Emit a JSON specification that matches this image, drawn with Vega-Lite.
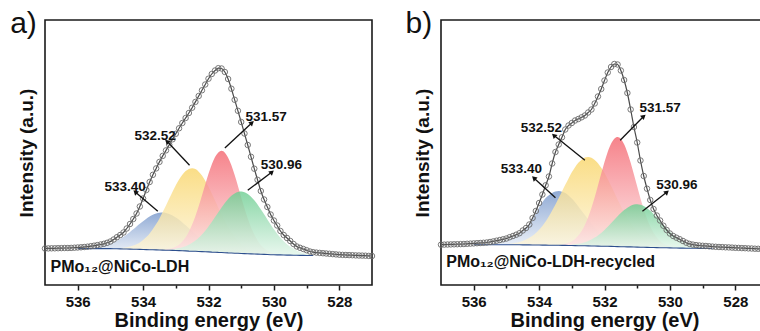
{
"$schema":"https://vega.github.io/schema/vega-lite/v6.json",
"padding":{"left":9,"top":8,"right":0,"bottom":0},
"background":"white",
"config":{"font":"Liberation Sans","view":{"stroke":"#1a1a1a","strokeWidth":1.6}},
"data":{"values":[
{"p":"a","k":"d","x":537.0,"o":36.5},{"p":"a","k":"d","x":536.9,"o":36.6},{"p":"a","k":"d","x":536.8,"o":36.7},{"p":"a","k":"d","x":536.7,"o":36.7},{"p":"a","k":"d","x":536.6,"o":36.8},{"p":"a","k":"d","x":536.5,"o":36.9},{"p":"a","k":"d","x":536.4,"o":37.0},{"p":"a","k":"d","x":536.3,"o":37.0},{"p":"a","k":"d","x":536.2,"o":37.1},{"p":"a","k":"d","x":536.1,"o":37.3},
{"p":"a","k":"d","x":536.0,"o":37.5,"bg":36.4},{"p":"a","k":"d","x":535.9,"o":37.7,"bg":36.4},
{"p":"a","k":"d","x":535.8,"o":38.0,"bg":36.4,"bl":36.8},{"p":"a","k":"d","x":535.7,"o":38.3,"bg":36.4,"bl":37.0},{"p":"a","k":"d","x":535.6,"o":38.8,"bg":36.4,"bl":37.3},{"p":"a","k":"d","x":535.5,"o":39.3,"bg":36.4,"bl":37.6},{"p":"a","k":"d","x":535.4,"o":39.9,"bg":36.4,"bl":38.1},{"p":"a","k":"d","x":535.3,"o":40.5,"bg":36.4,"bl":38.7},{"p":"a","k":"d","x":535.2,"o":41.2,"bg":36.4,"bl":39.4},{"p":"a","k":"d","x":535.1,"o":42.2,"bg":36.4,"bl":40.3},{"p":"a","k":"d","x":535.0,"o":43.5,"bg":36.4,"bl":41.5},{"p":"a","k":"d","x":534.9,"o":45.5,"bg":36.3,"bl":42.8},{"p":"a","k":"d","x":534.8,"o":47.8,"bg":36.2,"bl":44.3},
{"p":"a","k":"d","x":534.7,"o":50.0,"bg":36.1,"bl":46.1,"ye":36.9},{"p":"a","k":"d","x":534.6,"o":52.5,"bg":36.0,"bl":48.2,"ye":37.2},{"p":"a","k":"d","x":534.5,"o":56.5,"bg":36.0,"bl":50.6,"ye":37.8},{"p":"a","k":"d","x":534.4,"o":61.0,"bg":35.9,"bl":53.1,"ye":38.4},{"p":"a","k":"d","x":534.3,"o":66.0,"bg":35.8,"bl":55.7,"ye":39.4},{"p":"a","k":"d","x":534.2,"o":71.5,"bg":35.7,"bl":58.5,"ye":40.8},{"p":"a","k":"d","x":534.1,"o":78.5,"bg":35.6,"bl":61.2,"ye":42.6},{"p":"a","k":"d","x":534.0,"o":86.5,"bg":35.5,"bl":63.8,"ye":45.0},{"p":"a","k":"d","x":533.9,"o":95.0,"bg":35.4,"bl":66.3,"ye":47.9},{"p":"a","k":"d","x":533.8,"o":103.0,"bg":35.3,"bl":68.4,"ye":51.6},{"p":"a","k":"d","x":533.7,"o":110.2,"bg":35.2,"bl":70.2,"ye":55.9},{"p":"a","k":"d","x":533.6,"o":116.6,"bg":35.1,"bl":71.4,"ye":60.9},{"p":"a","k":"d","x":533.5,"o":123.1,"bg":35.0,"bl":72.2,"ye":66.6},{"p":"a","k":"d","x":533.4,"o":129.1,"bg":34.9,"bl":72.4,"ye":72.9},
{"p":"a","k":"d","x":533.3,"o":134.6,"bg":34.8,"bl":72.0,"ye":79.5,"re":35.7},{"p":"a","k":"d","x":533.2,"o":140.2,"bg":34.7,"bl":71.0,"ye":86.4,"re":36.2,"gr":35.5},{"p":"a","k":"d","x":533.1,"o":145.7,"bg":34.6,"bl":69.6,"ye":93.3,"re":37.1,"gr":35.8},{"p":"a","k":"d","x":533.0,"o":151.2,"bg":34.5,"bl":67.6,"ye":99.7,"re":38.5,"gr":36.3},{"p":"a","k":"d","x":532.9,"o":156.7,"bg":34.4,"bl":65.3,"ye":105.5,"re":40.6,"gr":36.9},{"p":"a","k":"d","x":532.8,"o":162.0,"bg":34.2,"bl":62.5,"ye":110.3,"re":43.6,"gr":37.7},{"p":"a","k":"d","x":532.7,"o":167.0,"bg":34.1,"bl":59.7,"ye":113.9,"re":47.8,"gr":38.8},{"p":"a","k":"d","x":532.6,"o":172.0,"bg":33.9,"bl":56.7,"ye":116.1,"re":53.3,"gr":40.3},{"p":"a","k":"d","x":532.5,"o":177.3,"bg":33.8,"bl":53.7,"ye":116.8,"re":60.4,"gr":42.2},{"p":"a","k":"d","x":532.4,"o":183.1,"bg":33.7,"bl":50.9,"ye":115.9,"re":69.0,"gr":44.6},{"p":"a","k":"d","x":532.3,"o":189.0,"bg":33.5,"bl":48.1,"ye":113.3,"re":78.8,"gr":47.3},{"p":"a","k":"d","x":532.2,"o":194.7,"bg":33.4,"bl":45.6,"ye":109.5,"re":89.5,"gr":50.6},{"p":"a","k":"d","x":532.1,"o":200.5,"bg":33.2,"bl":43.2,"ye":104.3,"re":100.5,"gr":54.3},{"p":"a","k":"d","x":532.0,"o":206.3,"bg":33.1,"bl":41.2,"ye":98.3,"re":111.2,"gr":58.6},{"p":"a","k":"d","x":531.9,"o":211.0,"bg":32.9,"bl":39.4,"ye":91.6,"re":120.6,"gr":63.1},{"p":"a","k":"d","x":531.8,"o":214.5,"bg":32.8,"bl":37.9,"ye":84.5,"re":128.0,"gr":67.9},{"p":"a","k":"d","x":531.7,"o":216.8,"bg":32.6,"bl":36.5,"ye":77.3,"re":132.6,"gr":72.7},{"p":"a","k":"d","x":531.6,"o":216.5,"bg":32.5,"bl":35.5,"ye":70.5,"re":134.2,"gr":77.5},{"p":"a","k":"d","x":531.5,"o":213.0,"bg":32.3,"bl":34.6,"ye":63.9,"re":132.3,"gr":82.0},{"p":"a","k":"d","x":531.4,"o":206.0,"bg":32.1,"bl":33.8,"ye":57.9,"re":127.3,"gr":85.9},{"p":"a","k":"d","x":531.3,"o":196.3,"bg":32.0,"bl":33.2,"ye":52.7,"re":119.7,"gr":89.2},{"p":"a","k":"d","x":531.2,"o":185.2,"bg":31.8,"bl":32.7,"ye":48.1,"re":109.9,"gr":91.6},{"p":"a","k":"d","x":531.1,"o":174.2,"bg":31.7,"bl":32.3,"ye":44.2,"re":99.0,"gr":93.1},{"p":"a","k":"d","x":531.0,"o":163.0,"bg":31.5,"bl":31.9,"ye":41.0,"re":87.6,"gr":93.5},
{"p":"a","k":"d","x":530.9,"o":151.5,"bg":31.4,"ye":38.4,"re":76.7,"gr":92.8},{"p":"a","k":"d","x":530.8,"o":140.0,"bg":31.2,"ye":36.3,"re":66.5,"gr":91.0},{"p":"a","k":"d","x":530.7,"o":128.2,"bg":31.1,"ye":34.7,"re":57.7,"gr":88.3},{"p":"a","k":"d","x":530.6,"o":116.3,"bg":31.0,"ye":33.5,"re":50.4,"gr":84.8},{"p":"a","k":"d","x":530.5,"o":105.2,"bg":30.9,"ye":32.7,"re":44.6,"gr":80.6},{"p":"a","k":"d","x":530.4,"o":94.0,"bg":30.7,"ye":31.9,"re":40.1,"gr":75.7},{"p":"a","k":"d","x":530.3,"o":85.5,"bg":30.6,"ye":31.4,"re":36.8,"gr":70.7},
{"p":"a","k":"d","x":530.2,"o":78.0,"bg":30.5,"re":34.5,"gr":65.6},{"p":"a","k":"d","x":530.1,"o":70.5,"bg":30.3,"re":32.8,"gr":60.5},{"p":"a","k":"d","x":530.0,"o":64.5,"bg":30.2,"re":31.7,"gr":55.7},{"p":"a","k":"d","x":529.9,"o":59.5,"bg":30.1,"re":31.0,"gr":51.2},
{"p":"a","k":"d","x":529.8,"o":54.0,"bg":30.1,"gr":47.3},{"p":"a","k":"d","x":529.7,"o":50.0,"bg":30.0,"gr":43.8},{"p":"a","k":"d","x":529.6,"o":47.0,"bg":29.9,"gr":40.8},{"p":"a","k":"d","x":529.5,"o":44.0,"bg":29.9,"gr":38.3},{"p":"a","k":"d","x":529.4,"o":41.0,"bg":29.8,"gr":36.2},{"p":"a","k":"d","x":529.3,"o":38.5,"bg":29.7,"gr":34.4},{"p":"a","k":"d","x":529.2,"o":37.2,"bg":29.6,"gr":33.1},{"p":"a","k":"d","x":529.1,"o":36.0,"bg":29.6,"gr":32.1},{"p":"a","k":"d","x":529.0,"o":34.8,"bg":29.5,"gr":31.3},{"p":"a","k":"d","x":528.9,"o":33.5,"bg":29.5,"gr":30.7},{"p":"a","k":"d","x":528.8,"o":32.8,"bg":29.5,"gr":30.3},
{"p":"a","k":"d","x":528.7,"o":32.4},{"p":"a","k":"d","x":528.6,"o":32.1},{"p":"a","k":"d","x":528.5,"o":31.8},{"p":"a","k":"d","x":528.4,"o":31.5},{"p":"a","k":"d","x":528.3,"o":31.2},{"p":"a","k":"d","x":528.2,"o":30.9},{"p":"a","k":"d","x":528.1,"o":30.6},{"p":"a","k":"d","x":528.0,"o":30.3},{"p":"a","k":"d","x":527.9,"o":30.1},{"p":"a","k":"d","x":527.8,"o":30.0},{"p":"a","k":"d","x":527.7,"o":29.9},{"p":"a","k":"d","x":527.6,"o":29.8},{"p":"a","k":"d","x":527.5,"o":29.6},{"p":"a","k":"d","x":527.4,"o":29.5},{"p":"a","k":"d","x":527.3,"o":29.4},{"p":"a","k":"d","x":527.2,"o":29.3},{"p":"a","k":"d","x":527.1,"o":29.1},{"p":"a","k":"d","x":527.0,"o":29.0},
{"p":"b","k":"d","x":537.0,"o":40.3},{"p":"b","k":"d","x":536.9,"o":40.4},{"p":"b","k":"d","x":536.8,"o":40.5},{"p":"b","k":"d","x":536.7,"o":40.6},{"p":"b","k":"d","x":536.6,"o":40.7},{"p":"b","k":"d","x":536.5,"o":40.8},{"p":"b","k":"d","x":536.4,"o":40.9},{"p":"b","k":"d","x":536.3,"o":41.0},{"p":"b","k":"d","x":536.2,"o":41.2},{"p":"b","k":"d","x":536.1,"o":41.4},
{"p":"b","k":"d","x":536.0,"o":41.6,"bg":40.3},{"p":"b","k":"d","x":535.9,"o":41.8,"bg":40.3},{"p":"b","k":"d","x":535.8,"o":42.0,"bg":40.3},{"p":"b","k":"d","x":535.7,"o":42.2,"bg":40.3},
{"p":"b","k":"d","x":535.6,"o":42.5,"bg":40.3,"bl":41.0},{"p":"b","k":"d","x":535.5,"o":43.0,"bg":40.3,"bl":41.4},{"p":"b","k":"d","x":535.4,"o":43.6,"bg":40.3,"bl":41.9},{"p":"b","k":"d","x":535.3,"o":44.3,"bg":40.3,"bl":42.4},{"p":"b","k":"d","x":535.2,"o":45.0,"bg":40.3,"bl":43.1},{"p":"b","k":"d","x":535.1,"o":45.7,"bg":40.3,"bl":44.0},{"p":"b","k":"d","x":535.0,"o":46.5,"bg":40.3,"bl":45.1},
{"p":"b","k":"d","x":534.9,"o":47.8,"bg":40.3,"bl":46.4,"ye":41.3},{"p":"b","k":"d","x":534.8,"o":49.0,"bg":40.2,"bl":47.6,"ye":41.6},{"p":"b","k":"d","x":534.7,"o":50.3,"bg":40.2,"bl":49.2,"ye":42.2},{"p":"b","k":"d","x":534.6,"o":51.8,"bg":40.2,"bl":51.0,"ye":43.0},{"p":"b","k":"d","x":534.5,"o":54.5,"bg":40.1,"bl":53.5,"ye":44.0},{"p":"b","k":"d","x":534.4,"o":57.0,"bg":40.1,"bl":56.5,"ye":45.4},{"p":"b","k":"d","x":534.3,"o":60.5,"bg":40.1,"bl":60.2,"ye":47.2},{"p":"b","k":"d","x":534.2,"o":67.0,"bg":40.0,"bl":65.5,"ye":49.3},{"p":"b","k":"d","x":534.1,"o":74.0,"bg":40.0,"bl":71.5,"ye":52.0},{"p":"b","k":"d","x":534.0,"o":82.0,"bg":40.0,"bl":77.5,"ye":55.3},{"p":"b","k":"d","x":533.9,"o":90.5,"bg":39.9,"bl":82.8,"ye":59.1},{"p":"b","k":"d","x":533.8,"o":99.7,"bg":39.9,"bl":86.9,"ye":63.6},{"p":"b","k":"d","x":533.7,"o":108.5,"bg":39.8,"bl":89.8,"ye":68.7},{"p":"b","k":"d","x":533.6,"o":121.5,"bg":39.8,"bl":92.1,"ye":74.4},{"p":"b","k":"d","x":533.5,"o":133.0,"bg":39.7,"bl":93.4,"ye":80.4},{"p":"b","k":"d","x":533.4,"o":140.5,"bg":39.7,"bl":93.9,"ye":86.9},
{"p":"b","k":"d","x":533.3,"o":147.7,"bg":39.6,"bl":93.3,"ye":93.6,"re":40.5},{"p":"b","k":"d","x":533.2,"o":155.5,"bg":39.6,"bl":91.9,"ye":100.2,"re":41.2},{"p":"b","k":"d","x":533.1,"o":159.5,"bg":39.5,"bl":89.5,"ye":106.6,"re":42.2},
{"p":"b","k":"d","x":533.0,"o":162.0,"bg":39.5,"bl":86.5,"ye":112.7,"re":43.8,"gr":40.4},{"p":"b","k":"d","x":532.9,"o":164.5,"bg":39.4,"bl":82.8,"ye":117.8,"re":46.1,"gr":40.7},{"p":"b","k":"d","x":532.8,"o":166.0,"bg":39.3,"bl":78.6,"ye":122.2,"re":49.4,"gr":41.2},{"p":"b","k":"d","x":532.7,"o":167.7,"bg":39.2,"bl":74.3,"ye":125.3,"re":54.0,"gr":41.8},{"p":"b","k":"d","x":532.6,"o":169.5,"bg":39.2,"bl":69.9,"ye":127.4,"re":60.1,"gr":42.8},{"p":"b","k":"d","x":532.5,"o":172.5,"bg":39.1,"bl":65.5,"ye":128.0,"re":67.8,"gr":44.0},{"p":"b","k":"d","x":532.4,"o":175.5,"bg":39.0,"bl":61.3,"ye":127.2,"re":77.0,"gr":45.5},{"p":"b","k":"d","x":532.3,"o":181.5,"bg":39.0,"bl":57.5,"ye":125.1,"re":87.8,"gr":47.4},{"p":"b","k":"d","x":532.2,"o":188.5,"bg":38.9,"bl":54.0,"ye":121.8,"re":99.4,"gr":49.6},{"p":"b","k":"d","x":532.1,"o":196.0,"bg":38.8,"bl":50.9,"ye":117.2,"re":111.4,"gr":52.1},{"p":"b","k":"d","x":532.0,"o":204.5,"bg":38.8,"bl":48.3,"ye":112.0,"re":123.0,"gr":55.1},{"p":"b","k":"d","x":531.9,"o":212.5,"bg":38.7,"bl":46.0,"ye":105.8,"re":133.2,"gr":58.3},{"p":"b","k":"d","x":531.8,"o":218.0,"bg":38.6,"bl":44.2,"ye":99.2,"re":141.2,"gr":61.7},{"p":"b","k":"d","x":531.7,"o":221.0,"bg":38.5,"bl":42.7,"ye":92.5,"re":146.3,"gr":65.2},{"p":"b","k":"d","x":531.6,"o":220.5,"bg":38.4,"bl":41.4,"ye":85.6,"re":148.0,"gr":68.7},{"p":"b","k":"d","x":531.5,"o":214.5,"bg":38.3,"bl":40.5,"ye":79.0,"re":146.1,"gr":71.9},{"p":"b","k":"d","x":531.4,"o":205.0,"bg":38.2,"bl":39.8,"ye":72.8,"re":140.8,"gr":74.9},{"p":"b","k":"d","x":531.3,"o":192.0,"bg":38.1,"bl":39.2,"ye":67.0,"re":132.6,"gr":77.3},{"p":"b","k":"d","x":531.2,"o":175.5,"bg":38.1,"bl":38.8,"ye":61.8,"re":122.3,"gr":79.3},
{"p":"b","k":"d","x":531.1,"o":158.0,"bg":38.0,"ye":57.2,"re":110.6,"gr":80.4},{"p":"b","k":"d","x":531.0,"o":142.5,"bg":37.9,"ye":53.2,"re":98.4,"gr":80.7},{"p":"b","k":"d","x":530.9,"o":124.5,"bg":37.8,"ye":49.8,"re":86.6,"gr":80.2},{"p":"b","k":"d","x":530.8,"o":109.0,"bg":37.7,"ye":47.0,"re":75.7,"gr":78.9},{"p":"b","k":"d","x":530.7,"o":96.3,"bg":37.6,"ye":44.7,"re":66.3,"gr":76.8},{"p":"b","k":"d","x":530.6,"o":85.0,"bg":37.5,"ye":42.8,"re":58.4,"gr":74.2},{"p":"b","k":"d","x":530.5,"o":76.0,"bg":37.5,"ye":41.4,"re":52.3,"gr":71.1},{"p":"b","k":"d","x":530.4,"o":69.5,"bg":37.4,"ye":40.2,"re":47.5,"gr":67.7},{"p":"b","k":"d","x":530.3,"o":64.5,"bg":37.3,"ye":39.3,"re":44.0,"gr":64.0},{"p":"b","k":"d","x":530.2,"o":59.3,"bg":37.2,"ye":38.6,"re":41.5,"gr":60.3},{"p":"b","k":"d","x":530.1,"o":55.0,"bg":37.2,"ye":38.2,"re":39.9,"gr":56.8},
{"p":"b","k":"d","x":530.0,"o":51.5,"bg":37.1,"re":38.7,"gr":53.4},{"p":"b","k":"d","x":529.9,"o":49.0,"bg":37.0,"re":37.9,"gr":50.3},
{"p":"b","k":"d","x":529.8,"o":47.3,"bg":37.0,"gr":47.7},{"p":"b","k":"d","x":529.7,"o":45.8,"bg":36.9,"gr":45.3},{"p":"b","k":"d","x":529.6,"o":44.0,"bg":36.9,"gr":43.4},{"p":"b","k":"d","x":529.5,"o":42.3,"bg":36.8,"gr":41.7},{"p":"b","k":"d","x":529.4,"o":41.1,"bg":36.8,"gr":40.4},{"p":"b","k":"d","x":529.3,"o":40.4,"bg":36.7,"gr":39.3},{"p":"b","k":"d","x":529.2,"o":39.9,"bg":36.7,"gr":38.6},{"p":"b","k":"d","x":529.1,"o":39.5,"bg":36.6,"gr":37.9},{"p":"b","k":"d","x":529.0,"o":39.2,"bg":36.6,"gr":37.5},
{"p":"b","k":"d","x":528.9,"o":39.0,"bg":36.6},{"p":"b","k":"d","x":528.8,"o":38.7,"bg":36.5},{"p":"b","k":"d","x":528.7,"o":38.4,"bg":36.5},
{"p":"b","k":"d","x":528.6,"o":38.2},{"p":"b","k":"d","x":528.5,"o":38.0},{"p":"b","k":"d","x":528.4,"o":37.9},{"p":"b","k":"d","x":528.3,"o":37.7},{"p":"b","k":"d","x":528.2,"o":37.6},{"p":"b","k":"d","x":528.1,"o":37.4},{"p":"b","k":"d","x":528.0,"o":37.2},{"p":"b","k":"d","x":527.9,"o":37.1},{"p":"b","k":"d","x":527.8,"o":36.9},{"p":"b","k":"d","x":527.7,"o":36.8},{"p":"b","k":"d","x":527.6,"o":36.6},{"p":"b","k":"d","x":527.5,"o":36.5},{"p":"b","k":"d","x":527.4,"o":36.3},{"p":"b","k":"d","x":527.3,"o":36.2},{"p":"b","k":"d","x":527.2,"o":36.1},{"p":"b","k":"d","x":527.1,"o":36.0},{"p":"b","k":"d","x":527.0,"o":36.0},
{"p":"a","k":"ar","x":533.55,"y":73.7,"x2":534.24,"y2":93,"lx":534.55,"ly":94,"t":"533.40","dir":"l"},
{"p":"a","k":"ar","x":532.58,"y":119.7,"x2":533.27,"y2":143.7,"lx":533.63,"ly":145,"t":"532.52","dir":"l"},
{"p":"a","k":"ar","x":531.5,"y":137,"x2":530.67,"y2":162.3,"lx":530.24,"ly":164,"t":"531.57","dir":"r"},
{"p":"a","k":"ar","x":530.8,"y":94.7,"x2":530.06,"y2":113,"lx":529.77,"ly":116,"t":"530.96","dir":"r"},
{"p":"b","k":"ar","x":533.5,"y":87.3,"x2":534.16,"y2":107,"lx":534.54,"ly":112,"t":"533.40","dir":"l"},
{"p":"b","k":"ar","x":532.6,"y":124.7,"x2":533.55,"y2":149.7,"lx":533.93,"ly":153,"t":"532.52","dir":"l"},
{"p":"b","k":"ar","x":531.52,"y":144.7,"x2":530.8,"y2":168.7,"lx":530.3,"ly":173,"t":"531.57","dir":"r"},
{"p":"b","k":"ar","x":530.84,"y":73.7,"x2":530.09,"y2":93,"lx":529.79,"ly":96.5,"t":"530.96","dir":"r"},
{"p":"a","k":"S","x":536.83,"y":13.5,"t":"PMo₁₂@NiCo-LDH"},
{"p":"b","k":"S","x":536.84,"y":18,"t":"PMo₁₂@NiCo-LDH-recycled"},
{"p":"a","k":"L","x":537.25,"y":252,"t":"a)"},
{"p":"b","k":"L","x":537.27,"y":252,"t":"b)"}
]},
"facet":{"column":{"field":"p","type":"nominal","header":null}},
"spacing":26,
"resolve":{"axis":{"y":"independent","x":"independent"}},
"spec":{
"width":327,"height":265,
"layer":[
{"transform":[{"filter":"datum.k==='d' && isValid(datum.bl)"}],
 "mark":{"type":"area","interpolate":"monotone","opacity":0.82,"color":{"gradient":"linear","x1":0,"y1":0,"x2":0,"y2":1,"stops":[{"offset":0,"color":"#7898cb"},{"offset":1,"color":"#e8eef7"}]}},
 "encoding":{
  "x":{"field":"x","type":"quantitative","scale":{"domain":[527,537],"reverse":true,"nice":false,"zero":false},"title":"Binding energy (eV)",
   "axis":{"values":[536,535,534,533,532,531,530,529,528],"labelExpr":"datum.value % 2 === 0 ? datum.label : ''","tickSize":{"condition":{"test":"datum.value % 2 === 0","value":5},"value":3},"tickColor":"#1a1a1a","tickWidth":1.5,"domain":false,"grid":false,"labelFont":"Liberation Sans","labelFontSize":15,"labelFontWeight":"bold","labelColor":"#111","labelPadding":4,"titleFont":"Liberation Sans","titleFontSize":20,"titleFontWeight":"bold","titleColor":"#111","titlePadding":1}},
  "y":{"field":"bl","type":"quantitative","scale":{"domain":[0,265],"nice":false,"zero":false},"title":"Intensity (a.u.)",
   "axis":{"ticks":false,"labels":false,"domain":false,"grid":false,"titleFont":"Liberation Sans","titleFontSize":19,"titleFontWeight":"bold","titleColor":"#111","titlePadding":9}},
  "y2":{"field":"bg"}}},
{"transform":[{"filter":"datum.k==='d' && isValid(datum.ye)"}],
 "mark":{"type":"area","interpolate":"monotone","opacity":0.82,"color":{"gradient":"linear","x1":0,"y1":0,"x2":0,"y2":1,"stops":[{"offset":0,"color":"#f9d66c"},{"offset":1,"color":"#fdf6de"}]}},
 "encoding":{"x":{"field":"x","type":"quantitative","scale":{"domain":[527,537],"reverse":true,"nice":false,"zero":false},"title":"Binding energy (eV)"},
  "y":{"field":"ye","type":"quantitative","scale":{"domain":[0,265],"nice":false,"zero":false},"title":"Intensity (a.u.)"},"y2":{"field":"bg"}}},
{"transform":[{"filter":"datum.k==='d' && isValid(datum.re)"}],
 "mark":{"type":"area","interpolate":"monotone","opacity":0.82,"color":{"gradient":"linear","x1":0,"y1":0,"x2":0,"y2":1,"stops":[{"offset":0,"color":"#f46871"},{"offset":1,"color":"#fde6e8"}]}},
 "encoding":{"x":{"field":"x","type":"quantitative","scale":{"domain":[527,537],"reverse":true,"nice":false,"zero":false},"title":"Binding energy (eV)"},
  "y":{"field":"re","type":"quantitative","scale":{"domain":[0,265],"nice":false,"zero":false},"title":"Intensity (a.u.)"},"y2":{"field":"bg"}}},
{"transform":[{"filter":"datum.k==='d' && isValid(datum.gr)"}],
 "mark":{"type":"area","interpolate":"monotone","opacity":0.82,"color":{"gradient":"linear","x1":0,"y1":0,"x2":0,"y2":1,"stops":[{"offset":0,"color":"#6fce93"},{"offset":1,"color":"#e4f6eb"}]}},
 "encoding":{"x":{"field":"x","type":"quantitative","scale":{"domain":[527,537],"reverse":true,"nice":false,"zero":false},"title":"Binding energy (eV)"},
  "y":{"field":"gr","type":"quantitative","scale":{"domain":[0,265],"nice":false,"zero":false},"title":"Intensity (a.u.)"},"y2":{"field":"bg"}}},
{"transform":[{"filter":"datum.k==='d' && isValid(datum.bg)"}],
 "mark":{"type":"line","color":"#2d4f8e","strokeWidth":1.1},
 "encoding":{"x":{"field":"x","type":"quantitative","scale":{"domain":[527,537],"reverse":true,"nice":false,"zero":false},"title":"Binding energy (eV)"},
  "y":{"field":"bg","type":"quantitative","scale":{"domain":[0,265],"nice":false,"zero":false},"title":"Intensity (a.u.)"}}},
{"transform":[{"filter":"datum.k==='d'"}],
 "mark":{"type":"line","color":"#4a4a4a","strokeWidth":1.2,"interpolate":"monotone"},
 "encoding":{"x":{"field":"x","type":"quantitative","scale":{"domain":[527,537],"reverse":true,"nice":false,"zero":false},"title":"Binding energy (eV)"},
  "y":{"field":"o","type":"quantitative","scale":{"domain":[0,265],"nice":false,"zero":false},"title":"Intensity (a.u.)"}}},
{"transform":[{"filter":"datum.k==='d'"}],
 "mark":{"type":"point","shape":"circle","filled":false,"size":30,"stroke":"#6a6a6a","strokeWidth":0.9,"opacity":1},
 "encoding":{"x":{"field":"x","type":"quantitative","scale":{"domain":[527,537],"reverse":true,"nice":false,"zero":false},"title":"Binding energy (eV)"},
  "y":{"field":"o","type":"quantitative","scale":{"domain":[0,265],"nice":false,"zero":false},"title":"Intensity (a.u.)"}}},
{"transform":[{"filter":"datum.k==='ar'"}],
 "mark":{"type":"rule","color":"#111","strokeWidth":1.3},
 "encoding":{"x":{"field":"x","type":"quantitative","scale":{"domain":[527,537],"reverse":true,"nice":false,"zero":false},"title":"Binding energy (eV)"},
  "y":{"field":"y","type":"quantitative","scale":{"domain":[0,265],"nice":false,"zero":false},"title":"Intensity (a.u.)"},
  "x2":{"field":"x2"},"y2":{"field":"y2"}}},
{"transform":[{"filter":"datum.k==='ar'"}],
 "mark":{"type":"point","shape":"triangle-up","filled":true,"size":32,"color":"#111","opacity":1},
 "encoding":{"x":{"field":"x2","type":"quantitative","scale":{"domain":[527,537],"reverse":true,"nice":false,"zero":false},"title":"Binding energy (eV)"},
  "y":{"field":"y2","type":"quantitative","scale":{"domain":[0,265],"nice":false,"zero":false},"title":"Intensity (a.u.)"},
  "angle":{"field":"dir","type":"nominal","scale":{"domain":["l","r"],"range":[-47,49]},"legend":null}}},
{"transform":[{"filter":"datum.k==='ar'"}],
 "mark":{"type":"text","font":"Liberation Sans","fontSize":13.5,"fontWeight":"bold","color":"#111","align":"center","baseline":"alphabetic"},
 "encoding":{"x":{"field":"lx","type":"quantitative","scale":{"domain":[527,537],"reverse":true,"nice":false,"zero":false},"title":"Binding energy (eV)"},
  "y":{"field":"ly","type":"quantitative","scale":{"domain":[0,265],"nice":false,"zero":false},"title":"Intensity (a.u.)"},
  "text":{"field":"t"}}},
{"transform":[{"filter":"datum.k==='S'"}],
 "mark":{"type":"text","font":"Liberation Sans","fontSize":16,"fontWeight":"bold","color":"#111","align":"left","baseline":"alphabetic"},
 "encoding":{"x":{"field":"x","type":"quantitative","scale":{"domain":[527,537],"reverse":true,"nice":false,"zero":false},"title":"Binding energy (eV)"},
  "y":{"field":"y","type":"quantitative","scale":{"domain":[0,265],"nice":false,"zero":false},"title":"Intensity (a.u.)"},
  "text":{"field":"t"}}},
{"transform":[{"filter":"datum.k==='L'"}],
 "mark":{"type":"text","font":"Liberation Sans","fontSize":30,"fontWeight":"normal","color":"#111","align":"right","baseline":"alphabetic","clip":false},
 "encoding":{"x":{"field":"x","type":"quantitative","scale":{"domain":[527,537],"reverse":true,"nice":false,"zero":false},"title":"Binding energy (eV)"},
  "y":{"field":"y","type":"quantitative","scale":{"domain":[0,265],"nice":false,"zero":false},"title":"Intensity (a.u.)"},
  "text":{"field":"t"}}}
]}
}
